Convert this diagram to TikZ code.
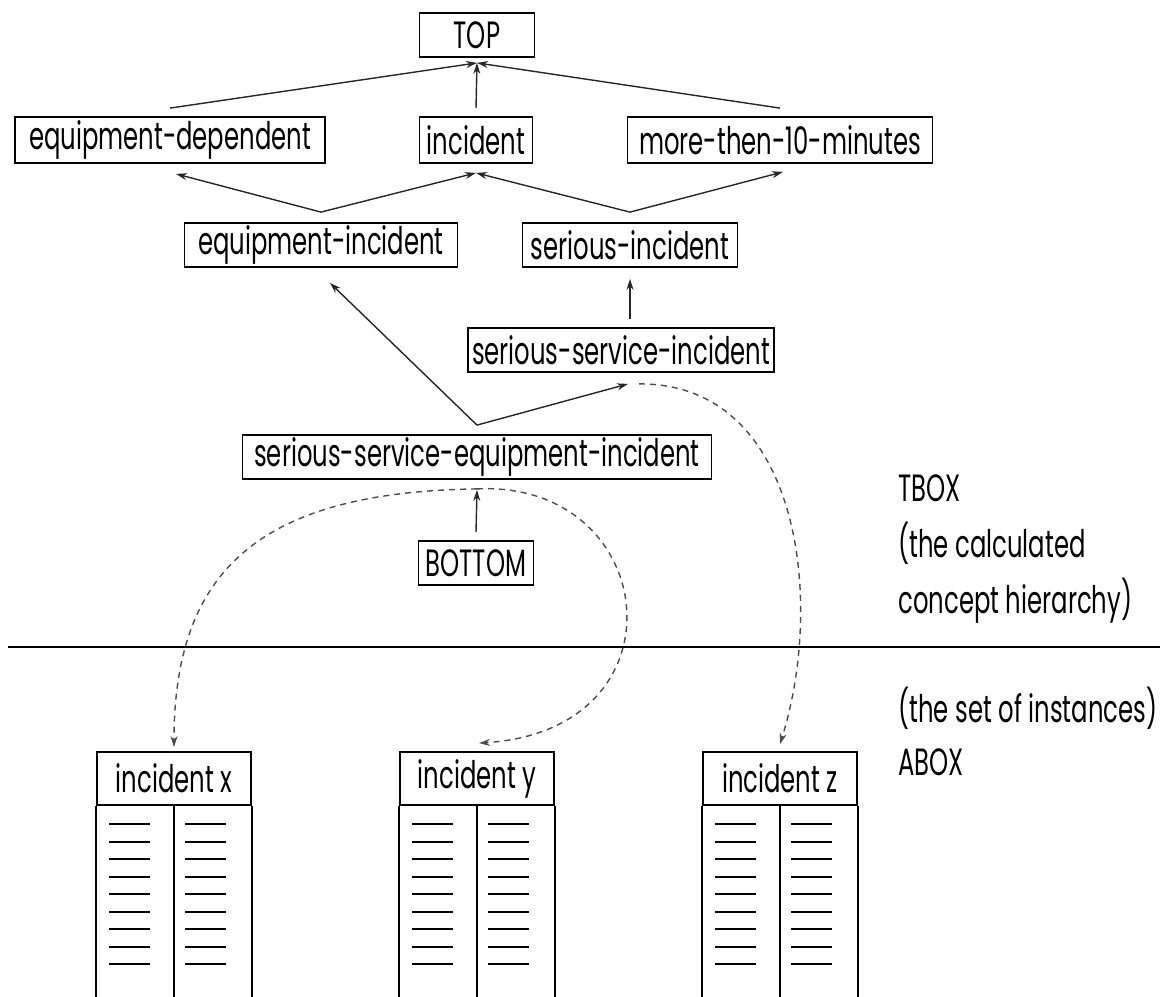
\documentclass[tikz,border=0pt]{standalone}
\usepackage{fontspec}
\newfontfamily\diagfont{Poppins}[FakeStretch=0.64]
\usetikzlibrary{arrows.meta}

\begin{document}
\begin{tikzpicture}[x=0.5pt,y=-0.5pt,
  concept/.style={draw, line width=0.9pt, minimum height=22pt, inner xsep=2pt, inner ysep=0pt,
    font=\diagfont\fontsize{19}{22}\selectfont},
  instance/.style={draw, line width=0.9pt, minimum width=77pt, minimum height=26.5pt, inner sep=0pt,
    font=\diagfont\fontsize{19}{22}\selectfont},
  isa/.style={line width=0.7pt, black!85, -{Stealth[open,length=5.5pt,width=3.5pt]}},
  member/.style={line width=0.7pt, black!70, dash pattern=on 3pt off 2.5pt,
    -{Stealth[open,length=5.5pt,width=3.5pt]}},
  boxnote/.style={anchor=west, align=left, inner sep=0pt}]
\useasboundingbox (0,0) rectangle (1172,996);

% concept hierarchy
\node[concept, minimum width=57.5pt] (top) at (477,35) {TOP};
\node[concept, minimum width=155pt, minimum height=23pt] (eqdep) at (170,140) {equipment-dependent};
\node[concept, minimum width=56.5pt, minimum height=23pt] (incident) at (476,140) {incident};
\node[concept, minimum width=152.5pt, minimum height=23pt] (tenmin) at (780,140) {more-then-10-minutes};
\node[concept, minimum width=136.5pt] (eqinc) at (321,245) {equipment-incident};
\node[concept, minimum width=107.5pt] (serinc) at (630,245) {serious-incident};
\node[concept, minimum width=149.5pt] (servinc) at (621,350) {serious-service-incident};
\node[concept, minimum width=234.5pt] (sseinc) at (477,457) {serious-service-equipment-incident};
\node[concept, minimum width=57.5pt] (bottom) at (476,563) {BOTTOM};

% subsumption links
\draw[isa] ([yshift=4pt]eqdep.north) -- ([yshift=-2.5pt]top.south);
\draw[isa] ([yshift=4pt]incident.north) -- ([yshift=-2.5pt]top.south);
\draw[isa] ([yshift=4pt]tenmin.north) -- ([yshift=-2.5pt]top.south);
\draw[isa] ([yshift=5pt]eqinc.north) -- ([xshift=3pt,yshift=-5pt]eqdep.south);
\draw[isa] ([yshift=5pt]eqinc.north) -- ([yshift=-4.5pt]incident.south);
\draw[isa] ([yshift=5pt]serinc.north) -- ([yshift=-4.5pt]incident.south);
\draw[isa] ([yshift=5pt]serinc.north) -- ([xshift=1.5pt,yshift=-4pt]tenmin.south);
\draw[isa] ([xshift=4.5pt,yshift=4pt]servinc.north) -- ([yshift=-5.5pt]serinc.south);
\draw[isa] ([yshift=4.5pt]sseinc.north) -- ([xshift=4.5pt,yshift=-7.5pt]eqinc.south);
\draw[isa] ([yshift=4.5pt]sseinc.north) -- ([xshift=3.5pt,yshift=-5.5pt]servinc.south);
\draw[isa] ([yshift=4pt]bottom.north) -- ([yshift=-5pt]sseinc.south);

% TBOX / ABOX border
\draw[line width=1.2pt] (8,647) -- (1160,647);

% instances
\foreach \nm/\cx in {x/174,y/477,z/780}{
  \node[instance] (inc\nm) at (\cx,778.5) {incident \nm};
  \draw[line width=0.9pt] (inc\nm.south west) -- ++(0,191);
  \draw[line width=0.9pt] (inc\nm.south) -- ++(0,191);
  \draw[line width=0.9pt] (inc\nm.south east) -- ++(0,191);
  \foreach \i in {0,...,8}{
    \draw[line width=1pt] (\cx-65,824+17.5*\i) -- ++(41,0);
    \draw[line width=1pt] (\cx+11,824+17.5*\i) -- ++(41,0);
  }
}

% instance-of links
\draw[member] ([yshift=-4.5pt]sseinc.south) .. controls (260,492) and (174,570) .. ([yshift=2pt]incx.north);
\draw[member] ([yshift=-4.5pt]sseinc.south) .. controls (660,480) and (690,730) .. ([xshift=1pt,yshift=4pt]incy.north);
\draw[member] ([xshift=9pt,yshift=-5.5pt]servinc.south) .. controls (800,383) and (825,600) .. ([yshift=3.5pt]incz.north);

% side notes
\node[boxnote, font=\diagfont\fontsize{19}{28}\selectfont] (tboxnote) at (898,549) {TBOX\\(the calculated\\concept hierarchy)};
\node[boxnote, font=\diagfont\fontsize{19}{26.5}\selectfont] (aboxnote) at (898,731.5) {(the set of instances)\\ABOX};

\end{tikzpicture}
\end{document}
